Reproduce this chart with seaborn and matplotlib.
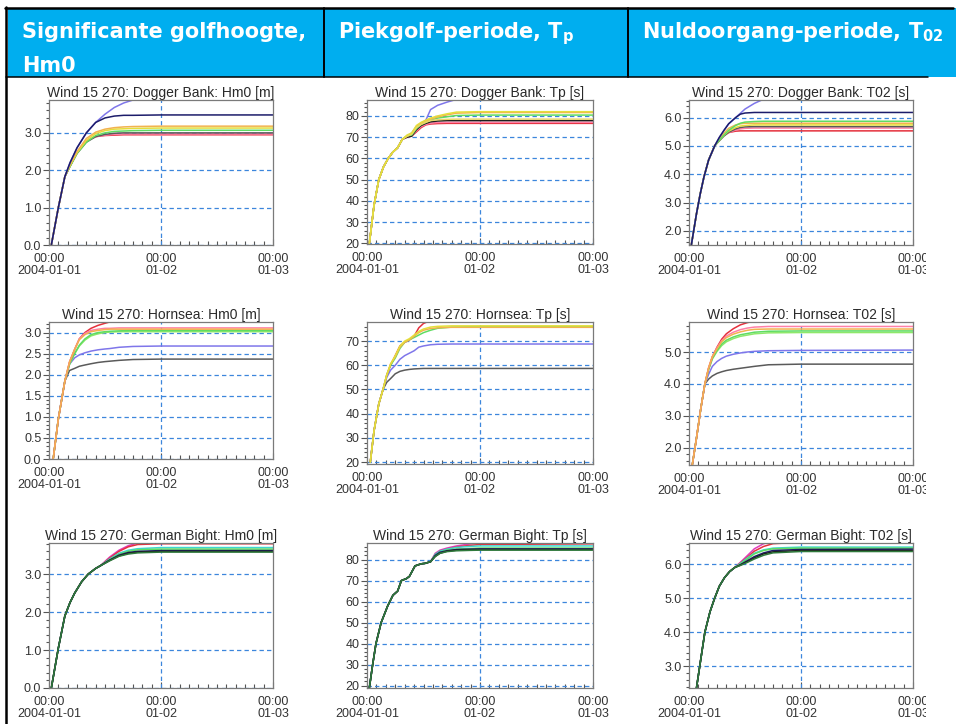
import numpy as np
import pandas as pd
import matplotlib
matplotlib.use("Agg")
import matplotlib.pyplot as plt
import matplotlib.ticker as mticker
from matplotlib.patches import Rectangle
from matplotlib.lines import Line2D
import seaborn as sns

sns.set_style("white")
plt.rcParams['font.family'] = ['Liberation Sans', 'DejaVu Sans']
plt.rcParams['mathtext.fontset'] = 'dejavusans'

W, H = 956, 724
HEADER_BLUE = '#00AEEF'
GRID_BLUE = '#3c86dc'

run_colours = {
    'violet': '#7f76ea', 'navy': '#1c1c6a', 'orange': '#f2b24e',
    'yellow': '#e4de3a', 'khaki': '#e9d86a', 'green': '#5fdc62',
    'lime': '#8ee86a', 'gray': '#5a5a5a', 'pink': '#ff7fa6',
    'red': '#e5303c', 'magenta': '#e03cbe', 'cyan': '#3fd6cf',
    'black': '#1e1e1e', 'darkgreen': '#2f7a3c',
}

x_ticks = [0, 24, 48]
x_tick_labels = ['00:00\n2004-01-01', '00:00\n01-02', '00:00\n01-03']

# ---- Dogger Bank ----
hours_db_hm0 = [0.5, 2, 3.4, 4.5, 6, 8, 10, 12, 14, 16, 18, 24, 48]
rise_db_hm0 = [0, 1.0, 1.83]
db_hm0 = {
    'red':    rise_db_hm0 + [2.12, 2.47, 2.78, 2.9, 2.93, 2.94, 2.95, 2.95, 2.95, 2.95],
    'pink':   rise_db_hm0 + [2.12, 2.47, 2.78, 2.9, 2.94, 2.96, 2.97, 2.97, 2.97, 2.97],
    'gray':   rise_db_hm0 + [2.1, 2.45, 2.75, 2.9, 2.96, 2.99, 3.0, 3.0, 3.0, 3.0],
    'green':  rise_db_hm0 + [2.1, 2.45, 2.75, 2.93, 3.0, 3.04, 3.05, 3.06, 3.07, 3.07],
    'yellow': rise_db_hm0 + [2.12, 2.47, 2.8, 2.98, 3.06, 3.1, 3.11, 3.12, 3.13, 3.13],
    'orange': rise_db_hm0 + [2.15, 2.5, 2.85, 3.02, 3.1, 3.14, 3.16, 3.17, 3.18, 3.18],
    'violet': rise_db_hm0 + [2.2, 2.6, 3.0, 3.28, 3.5, 3.68, 3.8, 3.88, 3.92, 3.92],
    'navy':   rise_db_hm0 + [2.2, 2.6, 3.0, 3.28, 3.4, 3.45, 3.47, 3.47, 3.48, 3.48],
}

hours_db_tp = [0.5, 1.5, 2.5, 3.5, 4.5, 5.5, 6.5, 7.5, 8.5, 9.5, 10.5, 11.5, 12.5, 13.5, 15, 17, 19, 24, 48]
rise_db_tp = [20, 38, 50, 56, 60, 63, 65, 69]
db_tp = {
    'violet': rise_db_tp + [70.5, 72, 75, 76.5, 78, 83, 85, 86.5, 87.8, 88.5, 88.5],
    'red':    rise_db_tp + [70, 70.5, 72.5, 74.5, 75.8, 76.2, 76.4, 76.5, 76.5, 76.5, 76.5],
    'pink':   rise_db_tp + [70, 70.5, 73, 75, 76, 76.6, 76.9, 77, 77, 77, 77],
    'black':  rise_db_tp + [70, 70.5, 73.5, 75.5, 76.5, 77.2, 77.6, 77.8, 77.8, 77.8, 77.8],
    'green':  rise_db_tp + [70.5, 71, 74, 76, 77, 78, 79, 79.6, 80.2, 80.4, 80.4],
    'orange': rise_db_tp + [70.5, 71.5, 75, 76.5, 77.5, 78.5, 79.5, 80.5, 81.3, 81.6, 81.6],
    'khaki':  rise_db_tp + [70.5, 71.5, 74.5, 76, 77, 77.8, 78.2, 78.4, 78.5, 78.5, 78.5],
    'yellow': rise_db_tp + [71, 72, 75.5, 77, 78, 79, 80, 81, 81.8, 82, 82],
}

hours_db_t02 = [0.5, 1.6, 2.4, 3.2, 4.2, 5.5, 6.5, 7.5, 8.5, 10, 11, 12, 14, 16, 24, 48]
rise_db_t02 = [1.5, 2.6, 3.3, 3.9, 4.5, 5.0]
db_t02 = {
    'red':    rise_db_t02 + [5.22, 5.38, 5.47, 5.52, 5.53, 5.53, 5.53, 5.53, 5.53, 5.53],
    'pink':   rise_db_t02 + [5.2, 5.36, 5.47, 5.56, 5.6, 5.62, 5.63, 5.63, 5.63, 5.63],
    'gray':   rise_db_t02 + [5.18, 5.35, 5.48, 5.6, 5.65, 5.67, 5.68, 5.68, 5.68, 5.68],
    'yellow': rise_db_t02 + [5.2, 5.38, 5.52, 5.65, 5.7, 5.72, 5.74, 5.74, 5.74, 5.74],
    'orange': rise_db_t02 + [5.25, 5.45, 5.62, 5.74, 5.78, 5.8, 5.8, 5.8, 5.8, 5.8],
    'green':  rise_db_t02 + [5.2, 5.38, 5.55, 5.72, 5.8, 5.84, 5.86, 5.87, 5.87, 5.87],
    'violet': rise_db_t02 + [5.3, 5.55, 5.78, 6.0, 6.15, 6.3, 6.5, 6.65, 6.7, 6.7],
    'navy':   rise_db_t02 + [5.3, 5.55, 5.78, 6.0, 6.12, 6.16, 6.18, 6.18, 6.18, 6.18],
}

# ---- Hornsea ----
hours_hs_hm0 = [0.9, 2, 3.4, 4.4, 5.5, 6.5, 7.7, 9, 10.5, 12, 13, 15, 18, 24, 48]
rise_hs_hm0 = [0, 0.95, 1.85]
hs_hm0 = {
    'gray':   rise_hs_hm0 + [2.1, 2.15, 2.2, 2.23, 2.26, 2.29, 2.31, 2.32, 2.34, 2.36, 2.37, 2.37],
    'violet': rise_hs_hm0 + [2.25, 2.4, 2.47, 2.52, 2.56, 2.59, 2.61, 2.62, 2.65, 2.67, 2.68, 2.68],
    'lime':   rise_hs_hm0 + [2.25, 2.5, 2.68, 2.82, 2.92, 2.97, 3.0, 3.01, 3.02, 3.02, 3.02, 3.02],
    'green':  rise_hs_hm0 + [2.25, 2.5, 2.7, 2.85, 2.95, 3.0, 3.02, 3.03, 3.04, 3.05, 3.05, 3.05],
    'red':    rise_hs_hm0 + [2.3, 2.6, 2.85, 3.0, 3.1, 3.17, 3.22, 3.25, 3.28, 3.3, 3.3, 3.3],
    'pink':   rise_hs_hm0 + [2.3, 2.6, 2.85, 2.98, 3.05, 3.08, 3.1, 3.1, 3.11, 3.11, 3.11, 3.11],
    'orange': rise_hs_hm0 + [2.3, 2.6, 2.83, 2.95, 3.02, 3.05, 3.07, 3.08, 3.08, 3.08, 3.08, 3.08],
}

hours_hs_tp = [0.7, 1.5, 2.5, 3.4, 4.2, 5, 6, 7, 8, 9, 10, 11, 12, 13.5, 15, 18, 24, 48]
rise_hs_tp = [20, 33, 44, 50]
hs_tp = {
    'gray':   rise_hs_tp + [53, 54.5, 56.5, 57.5, 58, 58.3, 58.5, 58.6, 58.7, 58.7, 58.7, 58.7, 58.7, 58.7],
    'violet': rise_hs_tp + [55, 58, 60, 62.5, 64, 65, 66, 67.5, 68, 68.5, 68.7, 68.8, 68.8, 68.8],
    'red':    rise_hs_tp + [56, 60, 64, 68, 69.5, 70.5, 72, 75.5, 77.3, 78.5, 79, 79, 79, 79],
    'green':  rise_hs_tp + [56, 60, 63, 67, 69.5, 70.5, 71.5, 72.5, 73.5, 74.5, 75.3, 75.8, 76, 76],
    'orange': rise_hs_tp + [56, 60.5, 63.5, 67.5, 69.5, 70.5, 72, 73.5, 74.5, 75.2, 75.5, 75.7, 75.7, 75.7],
    'yellow': rise_hs_tp + [56, 60.5, 64, 68, 70, 71, 72.5, 74, 75, 75.8, 76.1, 76.3, 76.3, 76.3],
}

hours_hs_t02 = [0.7, 1.6, 2.5, 3.4, 4.2, 5, 6, 7, 8, 9.5, 11, 12.5, 14, 17, 24, 48]
rise_hs_t02 = [1.46, 2.3, 3.2, 4.0]
hs_t02 = {
    'gray':   rise_hs_t02 + [4.15, 4.25, 4.33, 4.38, 4.42, 4.46, 4.49, 4.52, 4.55, 4.6, 4.62, 4.62],
    'violet': rise_hs_t02 + [4.3, 4.55, 4.7, 4.8, 4.87, 4.93, 4.97, 5.0, 5.02, 5.04, 5.05, 5.06],
    'lime':   rise_hs_t02 + [4.45, 4.78, 5.02, 5.2, 5.32, 5.42, 5.49, 5.53, 5.57, 5.6, 5.61, 5.61],
    'green':  rise_hs_t02 + [4.45, 4.8, 5.05, 5.25, 5.37, 5.47, 5.54, 5.58, 5.62, 5.65, 5.66, 5.66],
    'red':    rise_hs_t02 + [4.5, 4.85, 5.15, 5.4, 5.57, 5.73, 5.85, 5.92, 5.97, 6.0, 6.0, 6.0],
    'pink':   rise_hs_t02 + [4.5, 4.85, 5.13, 5.35, 5.5, 5.62, 5.7, 5.75, 5.78, 5.8, 5.8, 5.8],
    'orange': rise_hs_t02 + [4.5, 4.85, 5.1, 5.32, 5.45, 5.56, 5.63, 5.68, 5.71, 5.72, 5.72, 5.72],
}

# ---- German Bight ----
hours_gb_hm0 = [0.5, 2, 3.4, 4.5, 5.5, 7, 8.4, 10, 11, 13, 15, 17, 19, 24, 48]
rise_gb_hm0 = [0, 1.05, 1.9, 2.25, 2.5, 2.8, 3.0, 3.15, 3.22]
gb_hm0 = {
    'magenta':   rise_gb_hm0 + [3.45, 3.63, 3.75, 3.82, 3.86, 3.86],
    'red':       rise_gb_hm0 + [3.42, 3.6, 3.72, 3.78, 3.8, 3.8],
    'cyan':      rise_gb_hm0 + [3.4, 3.55, 3.63, 3.67, 3.7, 3.7],
    'green':     rise_gb_hm0 + [3.38, 3.52, 3.6, 3.64, 3.66, 3.66],
    'navy':      rise_gb_hm0 + [3.37, 3.5, 3.57, 3.6, 3.62, 3.62],
    'black':     rise_gb_hm0 + [3.36, 3.48, 3.55, 3.58, 3.6, 3.6],
    'darkgreen': rise_gb_hm0 + [3.35, 3.47, 3.53, 3.56, 3.58, 3.58],
}

hours_gb_tp = [0.5, 1.2, 1.9, 3, 4.4, 5.5, 6.5, 7.3, 8.4, 9, 10.2, 11.5, 12.3, 13.5, 14.5, 15.5, 17, 19, 22, 24, 48]
rise_gb_tp = [19, 30, 40, 50, 58, 63, 65, 70, 71, 72, 77, 78, 78.2, 79]
gb_tp = {
    'magenta':   rise_gb_tp + [83, 84.5, 85.5, 86.5, 87.5, 88, 88.5],
    'red':       rise_gb_tp + [82.5, 84, 85, 86, 86.8, 87.2, 87.5],
    'cyan':      rise_gb_tp + [82.5, 84, 85, 85.8, 86.3, 86.5, 86.5],
    'green':     rise_gb_tp + [82, 83.5, 84.5, 85, 85.3, 85.5, 85.5],
    'navy':      rise_gb_tp + [82, 83.5, 84.2, 84.8, 85, 85.1, 85.1],
    'black':     rise_gb_tp + [81.5, 83, 84, 84.5, 84.7, 84.8, 84.8],
    'darkgreen': rise_gb_tp + [81.5, 83, 83.8, 84.2, 84.4, 84.5, 84.5],
}

hours_gb_t02 = [1.6, 2.3, 3.4, 4.5, 5.5, 6.5, 7.6, 8.7, 9.8, 11, 12.5, 14, 16, 18, 24, 48]
rise_gb_t02 = [2.36, 3.0, 4.0, 4.6, 5.0, 5.35, 5.6, 5.78, 5.9]
gb_t02 = {
    'magenta':   rise_gb_t02 + [6.05, 6.25, 6.45, 6.6, 6.66, 6.68, 6.68],
    'red':       rise_gb_t02 + [6.03, 6.2, 6.38, 6.52, 6.6, 6.64, 6.64],
    'cyan':      rise_gb_t02 + [6.02, 6.18, 6.32, 6.42, 6.47, 6.5, 6.5],
    'green':     rise_gb_t02 + [6.0, 6.15, 6.3, 6.4, 6.45, 6.47, 6.47],
    'navy':      rise_gb_t02 + [5.98, 6.1, 6.22, 6.33, 6.4, 6.43, 6.44],
    'black':     rise_gb_t02 + [5.97, 6.07, 6.18, 6.3, 6.36, 6.4, 6.4],
    'darkgreen': rise_gb_t02 + [5.96, 6.05, 6.15, 6.26, 6.33, 6.37, 6.37],
}

# title, hours, series, ylim, major, minor, fmt, box (left, top, right, bottom in px)
panels = [
    ('Wind 15 270: Dogger Bank: Hm0 [m]', hours_db_hm0, db_hm0, (0, 3.88), 1.0, 0.2, '%.1f', (49, 100, 273, 245)),
    ('Wind 15 270: Dogger Bank: Tp [s]', hours_db_tp, db_tp, (19.7, 87.5), 10, 2, '%d', (367, 100, 593, 244)),
    ('Wind 15 270: Dogger Bank: T02 [s]', hours_db_t02, db_t02, (1.5, 6.62), 1.0, 0.2, '%.1f', (689, 100, 913, 245)),
    ('Wind 15 270: Hornsea: Hm0 [m]', hours_hs_hm0, hs_hm0, (0, 3.25), 0.5, 0.1, '%.1f', (49, 322, 273, 459)),
    ('Wind 15 270: Hornsea: Tp [s]', hours_hs_tp, hs_tp, (19.2, 77.9), 10, 2, '%d', (367, 322, 593, 464)),
    ('Wind 15 270: Hornsea: T02 [s]', hours_hs_t02, hs_t02, (1.46, 5.94), 1.0, 0.2, '%.1f', (689, 322, 913, 465)),
    ('Wind 15 270: German Bight: Hm0 [m]', hours_gb_hm0, gb_hm0, (0, 3.82), 1.0, 0.2, '%.1f', (49, 543, 273, 688)),
    ('Wind 15 270: German Bight: Tp [s]', hours_gb_tp, gb_tp, (18.9, 87.9), 10, 2, '%d', (367, 543, 593, 688)),
    ('Wind 15 270: German Bight: T02 [s]', hours_gb_t02, gb_t02, (2.36, 6.62), 1.0, 0.2, '%.1f', (689, 543, 913, 688)),
]


def px_rect(left, top, right, bottom):
    return [left / W, 1 - bottom / H, (right - left) / W, (bottom - top) / H]


def draw_panel(ax, title, hours, series, ylim, major, minor, fmt):
    rows = []
    for run, values in series.items():
        for h, v in zip(hours, values):
            rows.append({'hour': h, 'value': v, 'run': run})
    df = pd.DataFrame(rows)
    sns.lineplot(data=df, x='hour', y='value', hue='run', hue_order=list(series.keys()),
                 palette=run_colours, estimator=None, sort=False, legend=False,
                 linewidth=1.1, ax=ax)

    ax.set_xlim(0, 48)
    ax.set_ylim(*ylim)
    ax.set_xlabel('')
    ax.set_ylabel('')
    ax.set_axisbelow(True)

    ax.set_xticks(x_ticks)
    ax.set_xticklabels(x_tick_labels)
    ax.xaxis.set_minor_locator(mticker.MultipleLocator(2))
    ax.yaxis.set_major_locator(mticker.MultipleLocator(major))
    ax.yaxis.set_minor_locator(mticker.MultipleLocator(minor))
    ax.yaxis.set_major_formatter(mticker.FormatStrFormatter(fmt))

    tick_col = '#555555'
    ax.tick_params(axis='x', which='major', bottom=True, direction='in', length=4, width=0.8,
                   color=tick_col, labelsize=9, labelcolor='#333333', pad=6)
    ax.tick_params(axis='x', which='minor', bottom=True, direction='in', length=3, width=0.8,
                   color=tick_col)
    ax.tick_params(axis='y', which='major', left=True, direction='out', length=4, width=0.8,
                   color=tick_col, labelsize=9, labelcolor='#333333', pad=1.5)
    ax.tick_params(axis='y', which='minor', left=True, direction='out', length=2.5, width=0.8,
                   color=tick_col)
    for lbl in ax.get_xticklabels():
        lbl.set_linespacing(1.0)

    ax.grid(axis='y', which='major', color=GRID_BLUE, linestyle=(0, (3.5, 2.5)), linewidth=0.9)
    ax.axvline(24, color=GRID_BLUE, linestyle=(0, (3.5, 2.5)), linewidth=0.9, zorder=0.6)

    for side in ax.spines.values():
        side.set_color('#7a7a7a')
        side.set_linewidth(0.9)

    ax.set_title(title, fontsize=10, color='#2a2a2a', pad=2)


fig = plt.figure(figsize=(W / 100, H / 100), dpi=100)

for title, hours, series, ylim, major, minor, fmt, box in panels:
    ax = fig.add_axes(px_rect(*box))
    draw_panel(ax, title, hours, series, ylim, major, minor, fmt)

# the embedded plot images end a little before the page edge
fig.patches.append(Rectangle((926 / W, 0), (W - 926) / W, 1 - 80 / H,
                             transform=fig.transFigure, facecolor='white',
                             edgecolor='none', zorder=5))

# table header
fig.patches.append(Rectangle((8 / W, 1 - 77 / H), (W - 8) / W, 69 / H,
                             transform=fig.transFigure, facecolor=HEADER_BLUE,
                             edgecolor='none', zorder=0))


def fig_line(xs, ys, lw):
    fig.lines.append(Line2D([x / W for x in xs], [1 - y / H for y in ys],
                            transform=fig.transFigure, color='black', linewidth=lw,
                            zorder=6))


fig_line([5, 953], [8, 8], 1.8)
fig_line([6, 6], [7, H], 1.8)
fig_line([324, 324], [8, 77], 1.4)
fig_line([628, 628], [8, 77], 1.4)
fig_line([6, 928], [77, 77], 1.1)

head_kw = dict(color='white', fontsize=15, fontweight='bold', family=['DejaVu Sans'], va='baseline')
fig.text(22 / W, 1 - 38 / H, 'Significante golfhoogte,', **head_kw)
fig.text(22 / W, 1 - 72 / H, 'Hm0', **head_kw)
fig.text(338 / W, 1 - 38 / H, r'Piekgolf-periode, T$_\mathbf{p}$', **head_kw)
fig.text(642 / W, 1 - 38 / H, r'Nuldoorgang-periode, T$_\mathbf{02}$', **head_kw)

fig.savefig('out.png', dpi=100)
